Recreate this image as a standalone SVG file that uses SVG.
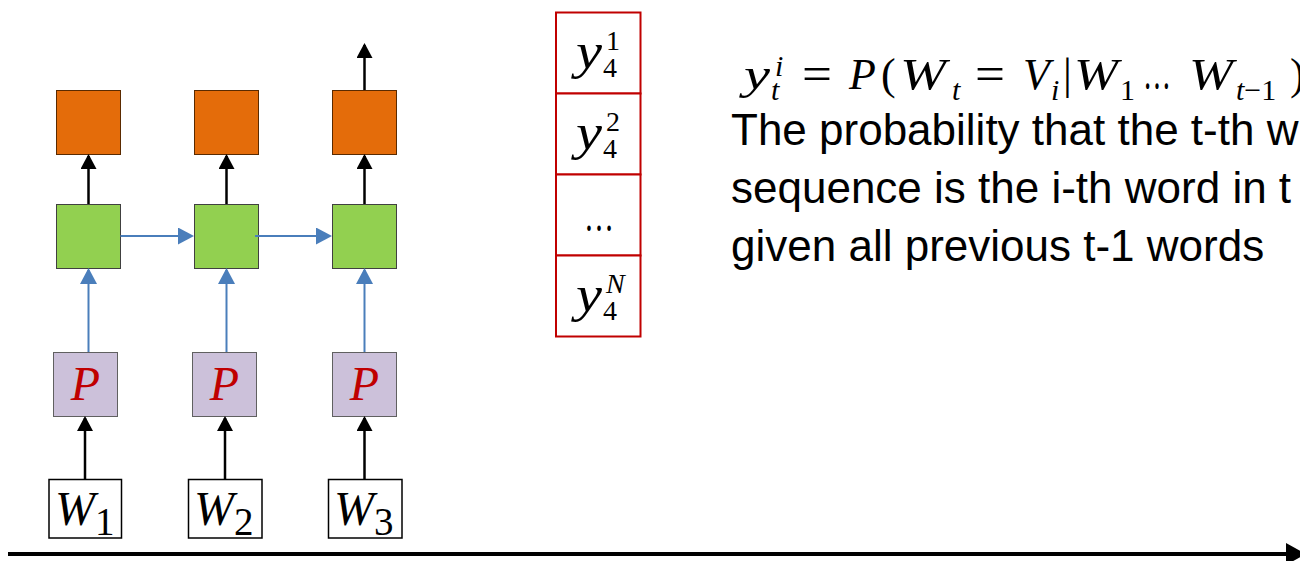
<svg xmlns="http://www.w3.org/2000/svg" width="1300" height="561" viewBox="0 0 1300 561">
<style>
.orange{fill:#E46C0A;stroke:#5a2a00;stroke-width:1}
.green{fill:#92D050;stroke:#404040;stroke-width:1}
.purple{fill:#CCC1DA;stroke:#606060;stroke-width:1}
.wbox{fill:#fff;stroke:#000;stroke-width:1.5}
.ybox{fill:#fff;stroke:#C00000;stroke-width:2}
.blk{stroke:#000;stroke-width:2.5;fill:none}
.blu{stroke:#4A7EBB;stroke-width:2;fill:none}
.mi{font-family:"Liberation Serif",serif;font-style:italic}
.mn{font-family:"Liberation Serif",serif;font-style:normal}
.txt{font-family:"Liberation Sans",Arial,sans-serif;font-size:44px;fill:#000}
</style>
<defs>
<marker id="ab" markerUnits="userSpaceOnUse" markerWidth="16" markerHeight="16" refX="13" refY="8" orient="auto"><path d="M0,0 L15,8 L0,16 z" fill="#000"/></marker>
<marker id="au" markerUnits="userSpaceOnUse" markerWidth="17" markerHeight="17" refX="14" refY="8.5" orient="auto"><path d="M0,0 L16,8.5 L0,17 z" fill="#4A7EBB"/></marker>
<marker id="ax" markerUnits="userSpaceOnUse" markerWidth="20" markerHeight="22" refX="16" refY="11" orient="auto"><path d="M0,0 L20,11 L0,22 z" fill="#000"/></marker>
</defs>

<g id="out1"><rect class="orange" x="56.5" y="90.5" width="64" height="64"/></g>
<g id="out2"><rect class="orange" x="194.5" y="90.5" width="64" height="64"/></g>
<g id="out3"><rect class="orange" x="332.5" y="90.5" width="64" height="64"/></g>

<g id="h1"><rect class="green" x="56.5" y="204.5" width="64" height="64"/></g>
<g id="h2"><rect class="green" x="194.5" y="204.5" width="64" height="64"/></g>
<g id="h3"><rect class="green" x="332.5" y="204.5" width="64" height="64"/></g>

<g id="p1"><rect class="purple" x="53.5" y="352.5" width="64" height="64"/><text class="mi" x="85.5" y="400" font-size="48" fill="#C00000" text-anchor="middle">P</text></g>
<g id="p2"><rect class="purple" x="192.5" y="352.5" width="64" height="64"/><text class="mi" x="224.5" y="400" font-size="48" fill="#C00000" text-anchor="middle">P</text></g>
<g id="p3"><rect class="purple" x="332.5" y="352.5" width="64" height="64"/><text class="mi" x="364.5" y="400" font-size="48" fill="#C00000" text-anchor="middle">P</text></g>

<g id="w1"><rect class="wbox" x="49" y="479.5" width="72.5" height="58.5"/><text class="mi" x="55" y="525" font-size="48">W<tspan class="mn" font-size="39" y="535">1</tspan></text></g>
<g id="w2"><rect class="wbox" x="188.5" y="479.5" width="73.5" height="58.5"/><text class="mi" x="194" y="525" font-size="48">W<tspan class="mn" font-size="39" y="535">2</tspan></text></g>
<g id="w3"><rect class="wbox" x="328.5" y="479.5" width="73.5" height="58.5"/><text class="mi" x="334" y="525" font-size="48">W<tspan class="mn" font-size="39" y="535">3</tspan></text></g>

<g id="ycol">
<rect class="ybox" x="556" y="12.5" width="84.5" height="81"/>
<rect class="ybox" x="556" y="93.5" width="84.5" height="81"/>
<rect class="ybox" x="556" y="174.5" width="84.5" height="81"/>
<rect class="ybox" x="556" y="255.5" width="84.5" height="81"/>
<text class="mi" x="576" y="68" font-size="50" textLength="26" lengthAdjust="spacingAndGlyphs">y</text><text class="mn" x="603" y="77" font-size="28">4</text><text class="mn" x="606" y="50" font-size="28">1</text>
<text class="mi" x="576" y="149" font-size="50" textLength="26" lengthAdjust="spacingAndGlyphs">y</text><text class="mn" x="603" y="158" font-size="28">4</text><text class="mn" x="606" y="131" font-size="28">2</text>
<text class="mn" x="584" y="231" font-size="46" textLength="30" lengthAdjust="spacingAndGlyphs">…</text>
<text class="mi" x="576" y="311" font-size="50" textLength="26" lengthAdjust="spacingAndGlyphs">y</text><text class="mn" x="603" y="320" font-size="28">4</text><text class="mi" x="606" y="293" font-size="28">N</text>
</g>

<g id="formula" font-size="44">
<text class="mi" x="744" y="89" textLength="26" lengthAdjust="spacingAndGlyphs">y</text>
<text class="mi" x="775" y="76" font-size="30">i</text>
<text class="mi" x="771" y="100" font-size="30">t</text>
<text class="mn" x="802" y="90" font-size="48" textLength="30" lengthAdjust="spacingAndGlyphs">=</text>
<text class="mi" x="849" y="89">P</text>
<text class="mn" x="881" y="89">(</text>
<text class="mi" x="900" y="89" textLength="46" lengthAdjust="spacingAndGlyphs">W</text>
<text class="mi" x="952" y="100" font-size="30">t</text>
<text class="mn" x="975" y="90" font-size="48" textLength="30" lengthAdjust="spacingAndGlyphs">=</text>
<text class="mi" x="1023" y="89">V</text>
<text class="mi" x="1051" y="100" font-size="30">i</text>
<text class="mn" x="1063" y="89">|</text>
<text class="mi" x="1074" y="89" textLength="44" lengthAdjust="spacingAndGlyphs">W</text>
<text class="mn" x="1120" y="100" font-size="30">1</text>
<text class="mn" x="1143" y="89" font-size="48" textLength="28" lengthAdjust="spacingAndGlyphs">…</text>
<text class="mi" x="1189" y="89" textLength="44" lengthAdjust="spacingAndGlyphs">W</text>
<text class="mi" x="1236" y="100" font-size="30">t<tspan class="mn">−1</tspan></text>
<text class="mn" x="1290" y="89">)</text>
</g>

<g id="desc">
<text class="txt" x="731" y="145">The probability that the t-th w</text>
<text class="txt" x="731" y="203">sequence is the i-th word in t</text>
<text class="txt" x="731" y="261">given all previous t-1 words</text>
</g>

<g id="connectors">
<line class="blk" x1="364.5" y1="90" x2="364.5" y2="45" marker-end="url(#ab)"/>
<line class="blk" x1="88.5" y1="204" x2="88.5" y2="156" marker-end="url(#ab)"/>
<line class="blk" x1="226.5" y1="204" x2="226.5" y2="156" marker-end="url(#ab)"/>
<line class="blk" x1="364.5" y1="204" x2="364.5" y2="156" marker-end="url(#ab)"/>
<line class="blu" x1="120.5" y1="236" x2="192" y2="236" marker-end="url(#au)"/>
<line class="blu" x1="255" y1="236" x2="330" y2="236" marker-end="url(#au)"/>
<line class="blu" x1="88.5" y1="352" x2="88.5" y2="270" marker-end="url(#au)"/>
<line class="blu" x1="226.5" y1="352" x2="226.5" y2="270" marker-end="url(#au)"/>
<line class="blu" x1="364.5" y1="352" x2="364.5" y2="270" marker-end="url(#au)"/>
<line class="blk" x1="85" y1="479" x2="85" y2="418" marker-end="url(#ab)"/>
<line class="blk" x1="225" y1="479" x2="225" y2="418" marker-end="url(#ab)"/>
<line class="blk" x1="364.5" y1="479" x2="364.5" y2="418" marker-end="url(#ab)"/>
<line x1="8" y1="554" x2="1302" y2="554" stroke="#000" stroke-width="4" marker-end="url(#ax)"/>
</g>
</svg>
